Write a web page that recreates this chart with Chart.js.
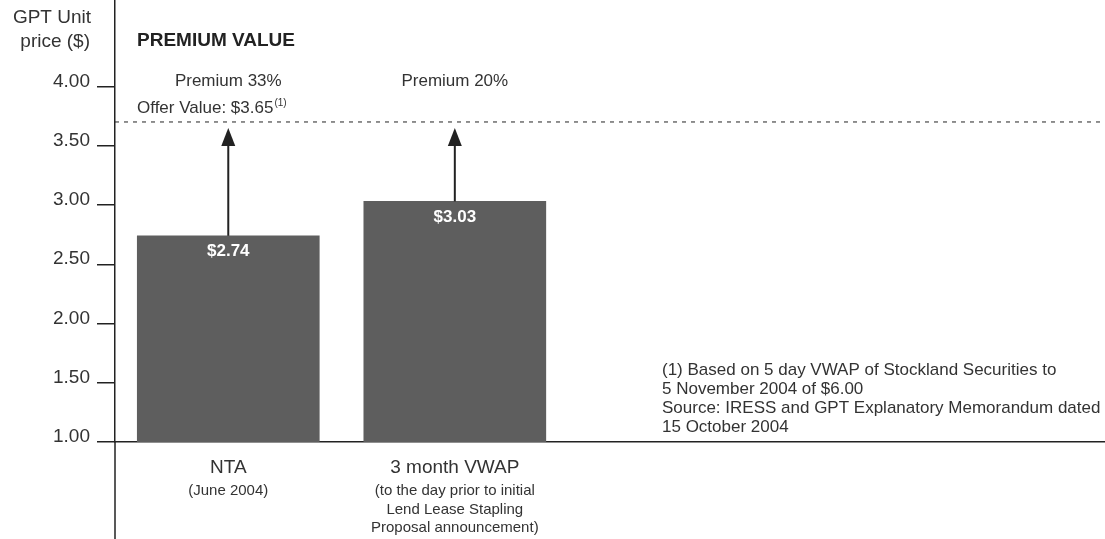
<!DOCTYPE html>
<html lang="en">
<head>
    <meta charset="UTF-8">
    <title>Premium Value</title>
    <script src="https://cdn.jsdelivr.net/npm/chart.js"></script>
    <style>
        html, body { margin: 0; padding: 0; background: #fff; }
        .chart-container { width: 1105px; height: 539px; }
    </style>
</head>
<body>
    <div class="chart-container"><canvas id="chart"></canvas></div>

    <script>
        // chart data
        const categories = ['NTA', '3 month VWAP'];
        const categoryNotes = [
            ['(June 2004)'],
            ['(to the day prior to initial', 'Lend Lease Stapling', 'Proposal announcement)']
        ];
        const unitPrices = [2.74, 3.03];
        const premiums = ['Premium 33%', 'Premium 20%'];
        const offerValue = 3.65;
        const yTicks = [1.00, 1.50, 2.00, 2.50, 3.00, 3.50, 4.00];
        const footnotes = [
            '(1) Based on 5 day VWAP of Stockland Securities to',
            '5 November 2004 of $6.00',
            'Source: IRESS and GPT Explanatory Memorandum dated',
            '15 October 2004'
        ];

        const FONT = '"Liberation Sans", Arial, sans-serif';
        const INK = '#222';
        const TEXT = '#333';

        // arrows, labels and notes drawn on top of the bars
        const extras = {
            id: 'extras',
            afterDatasetsDraw(chart) {
                const { ctx, chartArea: a, scales: { y } } = chart;
                const offerY = y.getPixelForValue(offerValue);
                ctx.save();

                // y axis continues down past the baseline
                ctx.strokeStyle = INK;
                ctx.lineWidth = 1.5;
                ctx.beginPath();
                ctx.moveTo(a.left, a.bottom);
                ctx.lineTo(a.left, chart.height);
                ctx.stroke();

                // offer value line
                ctx.lineWidth = 1;
                ctx.setLineDash([4, 5]);
                ctx.beginPath();
                ctx.moveTo(a.left, offerY - 6);
                ctx.lineTo(a.right, offerY - 6);
                ctx.stroke();
                ctx.setLineDash([]);

                const meta = chart.getDatasetMeta(0);
                meta.data.forEach((bar, i) => {
                    // arrow up to offer value
                    ctx.strokeStyle = INK;
                    ctx.fillStyle = INK;
                    ctx.lineWidth = 2;
                    ctx.beginPath();
                    ctx.moveTo(bar.x, bar.y);
                    ctx.lineTo(bar.x, offerY + 12);
                    ctx.stroke();
                    ctx.beginPath();
                    ctx.moveTo(bar.x, offerY);
                    ctx.lineTo(bar.x - 7, offerY + 18);
                    ctx.lineTo(bar.x + 7, offerY + 18);
                    ctx.closePath();
                    ctx.fill();

                    // value inside bar
                    ctx.fillStyle = '#fff';
                    ctx.font = 'bold 17px ' + FONT;
                    ctx.textAlign = 'center';
                    ctx.textBaseline = 'middle';
                    ctx.fillText('$' + unitPrices[i].toFixed(2), bar.x, bar.y + 16);

                    // premium text
                    ctx.fillStyle = TEXT;
                    ctx.font = '17px ' + FONT;
                    ctx.fillText(premiums[i], bar.x, offerY - 47);

                    // notes under category name
                    ctx.font = '15px ' + FONT;
                    categoryNotes[i].forEach((t, j) => {
                        ctx.fillText(t, bar.x, a.bottom + 49 + j * 18.5);
                    });
                });

                // axis title
                ctx.fillStyle = TEXT;
                ctx.font = '19px ' + FONT;
                ctx.textAlign = 'right';
                ctx.fillText('GPT Unit', 91, 18);
                ctx.fillText('price ($)', 90, 42);

                // heading
                ctx.textAlign = 'left';
                ctx.fillStyle = INK;
                ctx.font = 'bold 19px ' + FONT;
                ctx.fillText('PREMIUM VALUE', a.left + 22, 41);

                // offer value label
                ctx.fillStyle = TEXT;
                ctx.font = '17px ' + FONT;
                const offerText = 'Offer Value: $' + offerValue.toFixed(2);
                ctx.fillText(offerText, a.left + 22, offerY - 20);
                const w = ctx.measureText(offerText).width;
                ctx.font = '10px ' + FONT;
                ctx.fillText('(1)', a.left + 23 + w, offerY - 25);

                // footnotes
                ctx.font = '17px ' + FONT;
                footnotes.forEach((t, j) => {
                    ctx.fillText(t, 662, a.bottom - 72 + j * 19);
                });

                ctx.restore();
            }
        };

        function plotChart(canvasId) {
            const ctx = document.getElementById(canvasId).getContext('2d');
            new Chart(ctx, {
                type: 'bar',
                data: {
                    datasets: [{
                        data: unitPrices.map((v, i) => ({ x: i + 0.5, y: v })),
                        backgroundColor: '#5e5e5e',
                        borderWidth: 0,
                        barThickness: 182
                    }]
                },
                options: {
                    responsive: true,
                    maintainAspectRatio: false,
                    animation: false,
                    layout: { padding: 0 },
                    plugins: {
                        legend: { display: false },
                        tooltip: { enabled: false }
                    },
                    scales: {
                        x: {
                            type: 'linear',
                            min: 0,
                            max: 4.37,
                            offset: false,
                            grid: { display: false, offset: false },
                            border: { display: true, color: INK, width: 1.5 },
                            ticks: {
                                color: TEXT,
                                font: { family: FONT, size: 19 },
                                padding: 6,
                                maxRotation: 0,
                                autoSkip: false,
                                callback: (v, i) => categories[i]
                            },
                            afterBuildTicks: s => {
                                s.ticks = categories.map((_, i) => ({ value: i + 0.5 }));
                            },
                            afterFit: s => {
                                s.height = 97;
                                s.paddingLeft = 0;
                                s.paddingRight = 0;
                            }
                        },
                        y: {
                            min: 1,
                            max: 4.73,
                            grid: {
                                drawOnChartArea: false,
                                drawTicks: true,
                                tickLength: 18,
                                color: INK,
                                lineWidth: 1.5
                            },
                            border: { display: true, color: INK, width: 1.5 },
                            ticks: {
                                color: TEXT,
                                font: { family: FONT, size: 19 },
                                padding: 7,
                                labelOffset: -5,
                                callback: v => Number(v).toFixed(2)
                            },
                            afterBuildTicks: s => {
                                s.ticks = yTicks.map(v => ({ value: v }));
                            },
                            afterFit: s => {
                                s.width = 115;
                                s.paddingTop = 0;
                                s.paddingBottom = 0;
                            }
                        }
                    }
                },
                plugins: [extras]
            });
        }

        plotChart('chart');
    </script>
</body>
</html>
